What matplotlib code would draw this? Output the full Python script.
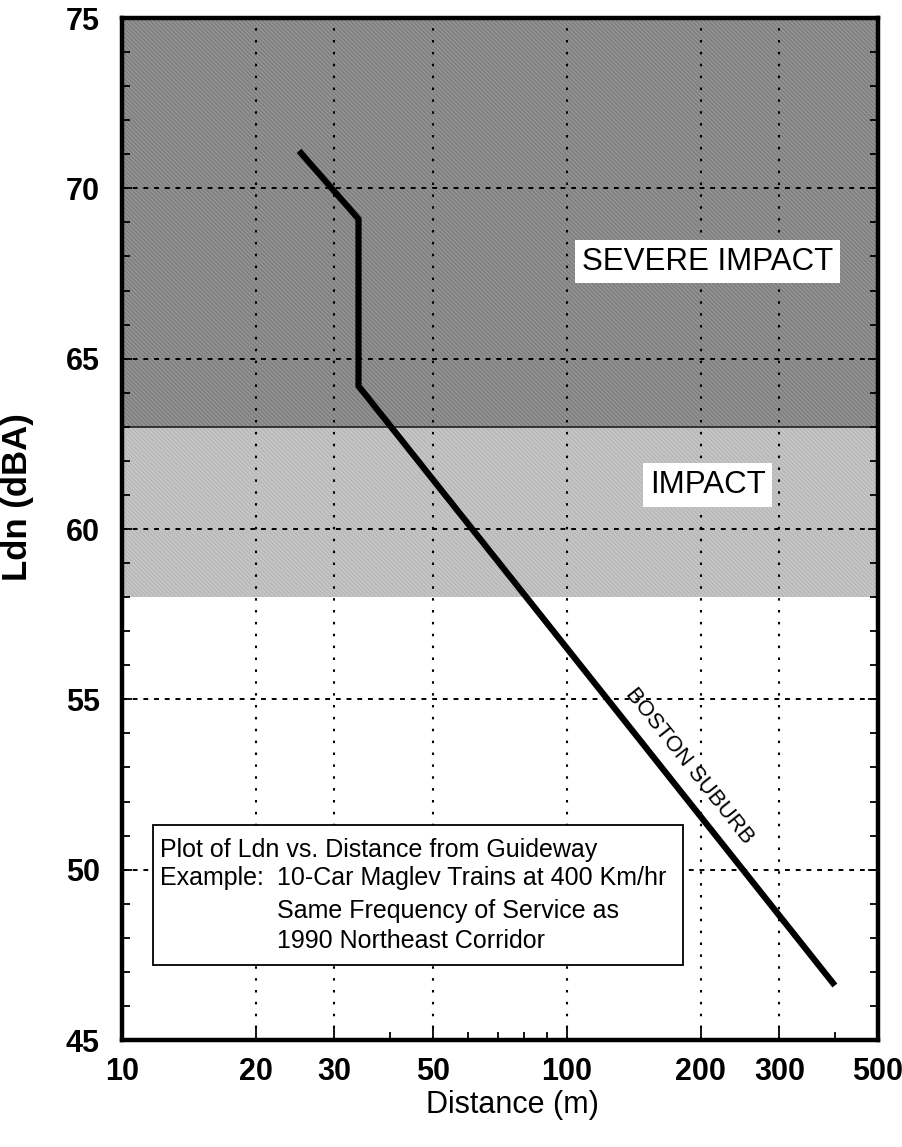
import matplotlib
matplotlib.use("Agg")
import numpy as np
import matplotlib.pyplot as plt
from matplotlib.patches import Rectangle

plt.rcParams["font.family"] = ["Liberation Sans", "DejaVu Sans"]

# Ldn curve for the Boston suburb example
distance_m = [25, 34, 34, 400]
ldn_dba = [71.1, 69.1, 64.2, 46.6]

# impact criteria bands (dBA)
severe_band = (63, 75)
impact_band = (58, 63)

x_ticks = [10, 20, 30, 50, 100, 200, 300, 500]
x_tick_labels = ["10", "20", "30", "50", "100", "200", "300", "500"]
x_minor_ticks = [40, 60, 70, 80, 90, 400]
y_ticks = [45, 50, 55, 60, 65, 70, 75]
y_minor_ticks = list(range(45, 76))

note_heading = "Plot of Ldn vs. Distance from Guideway"
note_prefix = "Example:"
note_details = ["10-Car Maglev Trains at 400 Km/hr",
                "Same Frequency of Service as",
                "1990 Northeast Corridor"]

fig = plt.figure(figsize=(9.03, 11.47), dpi=100)
ax = fig.add_axes([122 / 903, 1 - 1040 / 1147, 756 / 903, 1022 / 1147])
ax.set_xscale("log")
ax.set_xlim(10, 500)
ax.set_ylim(45, 75)

# shaded criteria zones (halftone look: flat grey with fine diagonal texture)
plt.rcParams["hatch.linewidth"] = 0.7
ax.axhspan(*severe_band, facecolor="#939393", edgecolor="#767676",
           hatch="\\" * 8, linewidth=0, zorder=0)
ax.axhspan(*impact_band, facecolor="#c6c6c6", edgecolor="#b2b2b2",
           hatch="\\" * 8, linewidth=0, zorder=0)
ax.axhline(severe_band[0], color="#222222", lw=1.2, zorder=1)

# grid
ax.set_xticks(x_ticks)
ax.set_xticklabels(x_tick_labels)
ax.set_xticks(x_minor_ticks, minor=True)
ax.xaxis.set_minor_formatter(plt.NullFormatter())
ax.set_yticks(y_ticks)
ax.set_yticks(y_minor_ticks, minor=True)
ax.xaxis.grid(True, which="major", color="black", lw=1.5,
              linestyle=(0, (1.2, 4.5)), zorder=1)
ax.yaxis.grid(True, which="major", color="black", lw=1.4,
              linestyle=(0, (2.5, 3.0)), zorder=1)
ax.set_axisbelow(False)

for s in ax.spines.values():
    s.set_linewidth(3.2)
    s.set_zorder(5)

ax.tick_params(axis="x", which="major", direction="in", length=9, width=1.3,
               bottom=True, top=False, pad=12, labelsize=22)
ax.tick_params(axis="x", which="minor", direction="in", length=6, width=1.3,
               bottom=True, top=False)
ax.tick_params(axis="y", which="major", direction="in", length=7, width=1.3,
               left=True, right=True, pad=16, labelsize=22)
ax.tick_params(axis="y", which="minor", direction="in", length=6, width=1.3,
               left=True, right=True)
for lbl in ax.get_xticklabels():
    lbl.set_fontweight("bold")
for lbl in ax.get_yticklabels():
    lbl.set_fontweight("bold")

# the Ldn curve
ax.plot(distance_m, ldn_dba, color="black", lw=4.5,
        solid_joinstyle="miter", solid_capstyle="butt", zorder=4)

# curve label, rotated to follow the sloped segment
p0 = ax.transData.transform((distance_m[2], ldn_dba[2]))
p1 = ax.transData.transform((distance_m[3], ldn_dba[3]))
angle = np.degrees(np.arctan2(p1[1] - p0[1], p1[0] - p0[0]))
ax.text(188, 53.05, "BOSTON SUBURB", rotation=angle, rotation_mode="anchor",
        ha="center", va="center", fontsize=16, zorder=4)

# zone labels
box_style = dict(boxstyle="square,pad=0.22", facecolor="white", edgecolor="none")
ax.text(207, 67.85, "SEVERE IMPACT", ha="center", va="center", fontsize=22.5,
        bbox=box_style, zorder=3)
ax.text(207, 61.3, "IMPACT", ha="center", va="center", fontsize=22.5,
        bbox=box_style, zorder=3)

# note box
ax.add_patch(Rectangle((0.041, 0.0734), 0.701, 0.137, transform=ax.transAxes,
                       facecolor="white", edgecolor="black", lw=1.3, zorder=3))
note_kw = dict(transform=ax.transAxes, ha="left", va="baseline", fontsize=18,
               zorder=4)
ax.text(0.050, (1040 - 857) / 1022, note_heading, **note_kw)
ax.text(0.050, (1040 - 885) / 1022, note_prefix, **note_kw)
for line, base_px in zip(note_details, [885, 918, 948]):
    ax.text(0.205, (1040 - base_px) / 1022, line, **note_kw)

# axis titles
ax.set_xlabel("Distance (m)", fontsize=22)
ax.xaxis.set_label_coords((512 - 122) / 756, (1040 - 1105) / 1022)
ax.xaxis.label.set_va("center")
ax.set_ylabel("Ldn (dBA)", fontsize=25, fontweight="bold")
ax.yaxis.set_label_coords((18 - 122) / 756, (1040 - 497) / 1022)
ax.yaxis.label.set_va("center")

fig.savefig("out.png", dpi=100)
